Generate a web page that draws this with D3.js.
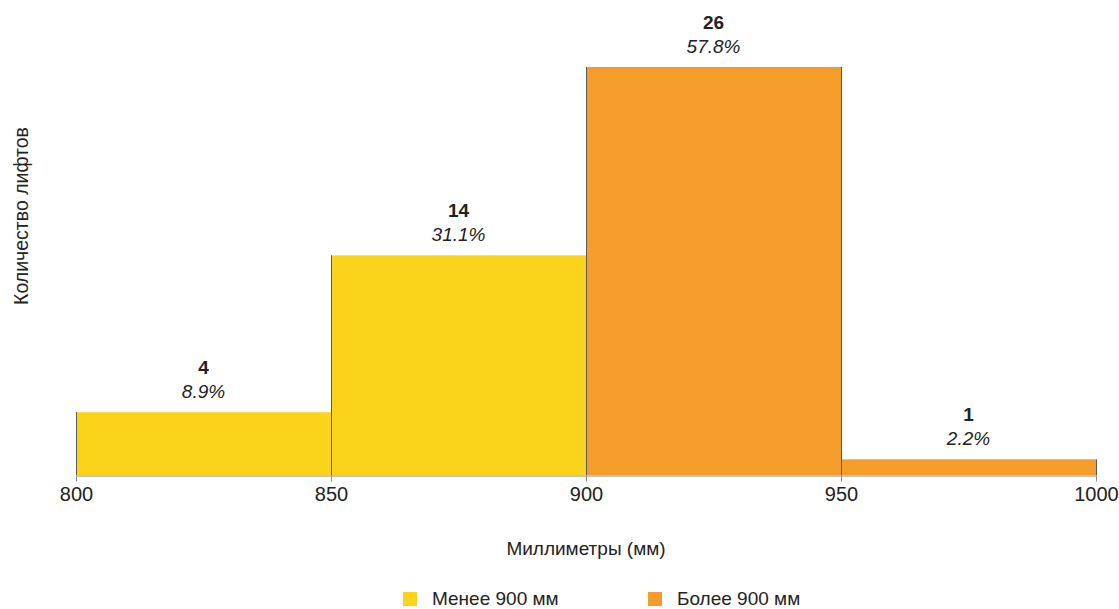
<!DOCTYPE html>
<html>
<head>
<meta charset="utf-8">
<script src="https://cdn.jsdelivr.net/npm/d3@7/dist/d3.min.js"></script>
<style>
  html, body { margin: 0; padding: 0; background: #fff; }
  svg text { font-family: "Liberation Sans", Arial, sans-serif; fill: #222; }
</style>
</head>
<body>
<svg id="chart" width="1119" height="609"></svg>
<script>
// Histogram bins (mm) and elevator counts
const binStarts = [800, 850, 900, 950];
const binEnds = [850, 900, 950, 1000];
const counts = [4, 14, 26, 1];
const groups = ["low", "low", "high", "high"];
const xTicks = [800, 850, 900, 950, 1000];
const legendLabels = ["Менее 900 мм", "Более 900 мм"];
const groupColors = { low: "#FBD31B", high: "#F69C2A" };

const FONT = '"Liberation Sans", Arial, sans-serif';
const total = d3.sum(counts);
const bins = binStarts.map((s, i) => ({
  x0: s, x1: binEnds[i], n: counts[i], g: groups[i],
  pct: (counts[i] / total * 100).toFixed(1) + "%"
}));

const svg = d3.select("#chart");
const x = d3.scaleLinear().domain([800, 1000]).range([76, 1096]);
const y = d3.scaleLinear().domain([0, 26]).range([475, 67]);

// bars
svg.append("g").selectAll("rect").data(bins).join("rect")
  .attr("x", d => x(d.x0))
  .attr("y", d => y(d.n))
  .attr("width", d => x(d.x1) - x(d.x0))
  .attr("height", d => y(0) - y(d.n))
  .attr("fill", d => groupColors[d.g]);

// vertical edges of each bar
const edges = svg.append("g").attr("stroke", "#5a5a5a").attr("stroke-width", 1);
bins.forEach(d => {
  [d.x0, d.x1].forEach(v => {
    edges.append("line")
      .attr("x1", Math.round(x(v)) + 0.5).attr("x2", Math.round(x(v)) + 0.5)
      .attr("y1", y(d.n)).attr("y2", y(0));
  });
});

// x axis
const axis = svg.append("g")
  .attr("transform", `translate(0,${y(0) + 0.5})`)
  .call(d3.axisBottom(x).tickValues(xTicks).tickFormat(d3.format("d"))
    .tickSize(6).tickSizeOuter(0).tickPadding(5));
axis.select(".domain").attr("stroke", "#888");
axis.selectAll(".tick line").attr("stroke", "#888");
axis.selectAll(".tick text")
  .attr("font-size", 20)
  .attr("fill", "#222")
  .style("font-family", FONT);

// value labels
const labels = svg.append("g").attr("text-anchor", "middle");
labels.selectAll("text.count").data(bins).join("text")
  .attr("class", "count")
  .attr("x", d => (x(d.x0) + x(d.x1)) / 2)
  .attr("y", d => y(d.n) - 38)
  .attr("font-size", 19)
  .attr("font-weight", "bold")
  .text(d => d.n);
labels.selectAll("text.pct").data(bins).join("text")
  .attr("class", "pct")
  .attr("x", d => (x(d.x0) + x(d.x1)) / 2)
  .attr("y", d => y(d.n) - 14)
  .attr("font-size", 19)
  .attr("font-style", "italic")
  .text(d => d.pct);

// axis titles
svg.append("text")
  .attr("x", (x(800) + x(1000)) / 2).attr("y", 555)
  .attr("text-anchor", "middle")
  .attr("font-size", 19)
  .text("Миллиметры (мм)");
svg.append("text")
  .attr("transform", "translate(28,216) rotate(-90)")
  .attr("text-anchor", "middle")
  .attr("font-size", 19.5)
  .text("Количество лифтов");

// legend
const legend = svg.append("g");
const legendX = [403, 648];
["low", "high"].forEach((g, i) => {
  legend.append("rect")
    .attr("x", legendX[i]).attr("y", 592)
    .attr("width", 14).attr("height", 14)
    .attr("fill", groupColors[g]);
  legend.append("text")
    .attr("x", legendX[i] + 29).attr("y", 605)
    .attr("font-size", 19)
    .text(legendLabels[i]);
});
</script>
</body>
</html>
